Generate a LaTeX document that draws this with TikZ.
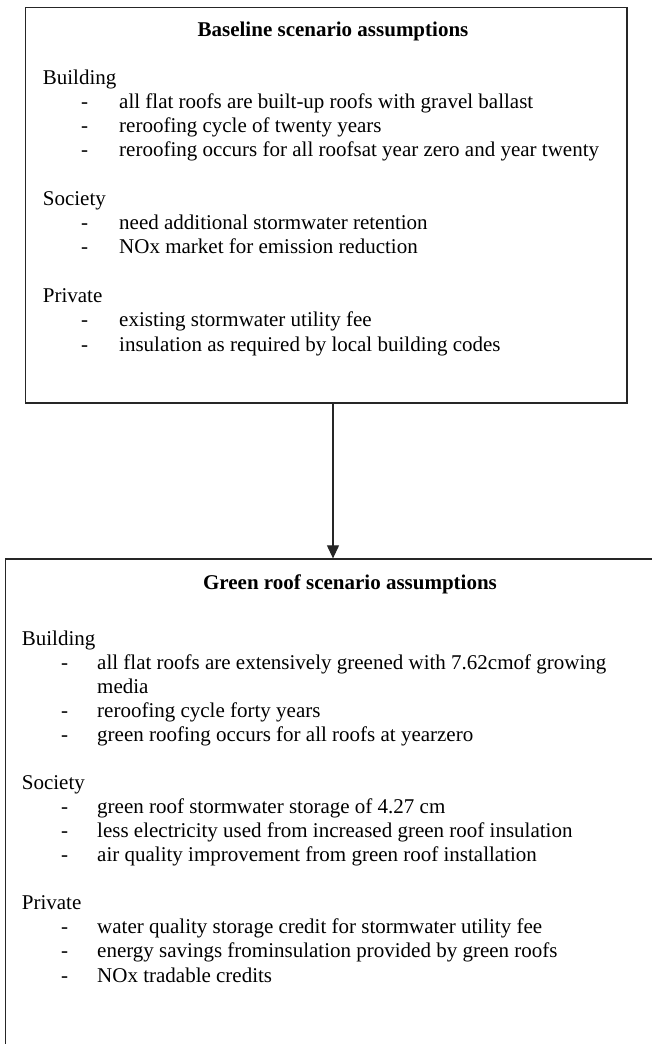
\documentclass[tikz,border=0pt]{standalone}
\usepackage{fontspec}
\setmainfont{Liberation Serif}
\usetikzlibrary{arrows.meta}
\begin{document}
\begin{tikzpicture}[x=1pt,y=-1pt,
  frame/.style={draw=black!85,line width=1.3pt,rectangle,inner sep=0pt},
  txt/.style={anchor=base west,inner sep=0pt,font=\fontsize{21}{24}\selectfont},
  head/.style={anchor=base,inner sep=0pt,font=\fontsize{21}{24}\selectfont\bfseries},
  conn/.style={draw=black!85,line width=1.1pt,-{Triangle[length=13pt,width=12pt]}}]
\useasboundingbox (0,0) rectangle (652,1044);
\clip (0,0) rectangle (652,1044);
\fill[white] (0,0) rectangle (652,1044);
% boxes
\node[frame,minimum width=601.3pt,minimum height=395.7pt] (top) at (326.35,205.15) {};
\node[frame,minimum width=689.3pt,minimum height=521pt] (bot) at (350.35,819.5) {};
\coordinate (ax) at (333,0);
\draw[conn] (top.south -| ax) -- (bot.north -| ax);
% top box text
\node[head] (t0) at (333,36) {Baseline scenario assumptions};
\node[txt] (tb) at (42.7,84) {Building};
\node[txt] (tb1d) at (81,108) {-}; \node[txt] (tb1) at (119,108) {all flat roofs are built-up roofs with gravel ballast};
\node[txt] (tb2d) at (81,132) {-}; \node[txt] (tb2) at (119,132) {reroofing cycle of twenty years};
\node[txt] (tb3d) at (81,156) {-}; \node[txt] (tb3) at (119,156) {reroofing occurs for all roofsat year zero and year twenty};
\node[txt] (ts) at (42.7,205) {Society};
\node[txt] (ts1d) at (81,229) {-}; \node[txt] (ts1) at (119,229) {need additional stormwater retention};
\node[txt] (ts2d) at (81,253) {-}; \node[txt] (ts2) at (119,253) {NOx market for emission reduction};
\node[txt] (tp) at (42.7,302) {Private};
\node[txt] (tp1d) at (81,326) {-}; \node[txt] (tp1) at (119,326) {existing stormwater utility fee};
\node[txt] (tp2d) at (81,351) {-}; \node[txt] (tp2) at (119,351) {insulation as required by local building codes};
% bottom box text
\node[head] (g0) at (350,589) {Green roof scenario assumptions};
\node[txt] (gb) at (21.7,645) {Building};
\node[txt] (gb1d) at (61,669) {-}; \node[txt] (gb1) at (97,669) {all flat roofs are extensively greened with 7.62cmof growing};
\node[txt] (gb1b) at (97,693) {media};
\node[txt] (gb2d) at (61,717) {-}; \node[txt] (gb2) at (97,717) {reroofing cycle forty years};
\node[txt] (gb3d) at (61,741) {-}; \node[txt] (gb3) at (97,741) {green roofing occurs for all roofs at yearzero};
\node[txt] (gs) at (21.7,789) {Society};
\node[txt] (gs1d) at (61,813) {-}; \node[txt] (gs1) at (97,813) {green roof stormwater storage of 4.27 cm};
\node[txt] (gs2d) at (61,837) {-}; \node[txt] (gs2) at (97,837) {less electricity used from increased green roof insulation};
\node[txt] (gs3d) at (61,861) {-}; \node[txt] (gs3) at (97,861) {air quality improvement from green roof installation};
\node[txt] (gp) at (21.7,909) {Private};
\node[txt] (gp1d) at (61,933) {-}; \node[txt] (gp1) at (97,933) {water quality storage credit for stormwater utility fee};
\node[txt] (gp2d) at (61,957) {-}; \node[txt] (gp2) at (97,957) {energy savings frominsulation provided by green roofs};
\node[txt] (gp3d) at (61,982) {-}; \node[txt] (gp3) at (97,982) {NOx tradable credits};
\end{tikzpicture}
\end{document}
